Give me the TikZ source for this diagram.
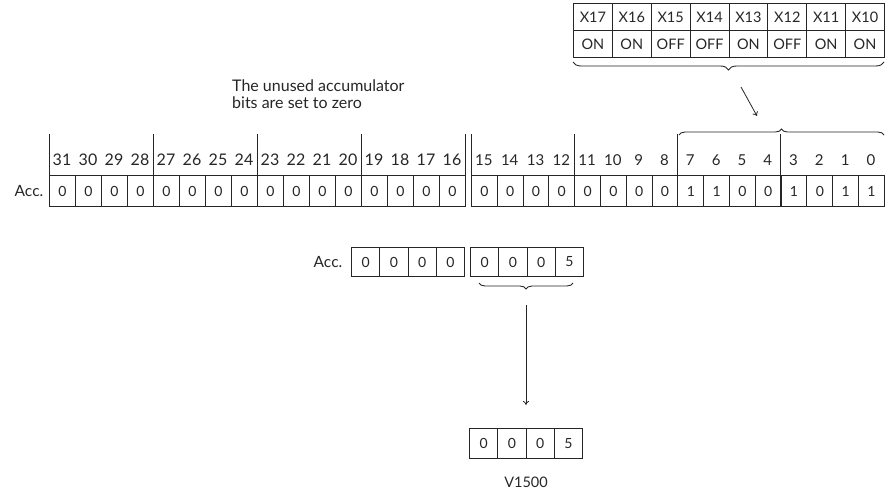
\documentclass[tikz,border=0pt]{standalone}
\usepackage{fontspec}
\setmainfont{Lato}
\usetikzlibrary{arrows.meta,decorations.pathreplacing}
\definecolor{inkc}{HTML}{262626}
\begin{document}
\begin{tikzpicture}[x=1pt,y=-1pt,
  inkline/.style={draw=inkc, line width=1pt},
  cellbox/.style n args={2}{draw=inkc, line width=1pt, minimum width=#1, minimum height=#2,
    inner sep=0pt, anchor=north west, text=inkc, font=\fontsize{14}{14}\selectfont},
  topcell/.style={font=\fontsize{14.5}{14.5}\selectfont},
  hdrL/.style={text=inkc, inner sep=0pt, font=\fontsize{16}{16}\selectfont},
  hdrR/.style={text=inkc, inner sep=0pt, font=\fontsize{15}{15}\selectfont},
  lbl/.style={text=inkc, inner sep=0pt, font=\fontsize{15.5}{15.5}\selectfont},
  bracestyle/.style={inkline, line width=0.9pt, decorate, decoration={brace, amplitude=#1}},
  arrowstyle/.style={inkline, line width=0.8pt, -{To[length=4pt,width=6pt]}}
]
\useasboundingbox (0,0) rectangle (885,492);

% top input table
\foreach \n/\s [count=\i from 0] in {17/ON,16/ON,15/OFF,14/OFF,13/ON,12/OFF,11/ON,10/ON} {
  \node[cellbox={38.875pt}{27pt}, topcell] (X\n) at ({573+38.875*\i},3) {X\n};
  \node[cellbox={38.875pt}{27pt}, topcell] (S\n) at ({573+38.875*\i},30) {\s};
}
\draw[bracestyle=8pt] (884,62) -- (573,62);
\coordinate (a1s) at (741,87);
\coordinate (a1e) at (757,116);
\draw[arrowstyle] (a1s) -- (a1e);

% note
\node[text=inkc, inner sep=0pt, anchor=north west, align=left,
  font=\fontsize{16}{17}\selectfont] (note) at (232,80)
  {The unused accumulator\\bits are set to zero};

% accumulator, upper half
\node[lbl] (acc) at (29,191) {Acc.};
\foreach \b [count=\i from 0] in {31,30,...,16} {
  \node[cellbox={26pt}{31pt}] (A\b) at ({49+26*\i},175) {0};
  \node[hdrL] (H\b) at ({62+26*\i},160) {\b};
}
\foreach \k in {0,...,4} \draw[inkline] ({49+104*\k},134) -- ({49+104*\k},206);

% accumulator, lower half
\foreach \b/\v [count=\i from 0] in {15/0,14/0,13/0,12/0,11/0,10/0,9/0,8/0,7/1,6/1,5/0,4/0,3/1,2/0,1/1,0/1} {
  \node[cellbox={25.8pt}{31pt}] (A\b) at ({471+25.8*\i},175) {\v};
  \node[hdrR] (H\b) at ({483.9+25.8*\i},160) {\b};
}
\foreach \k in {0,...,3} \draw[inkline] ({471+103.2*\k},134) -- ({471+103.2*\k},206);
\draw[bracestyle=6pt] (679,135) -- (884,135);

% middle accumulator
\node[lbl] (acc2) at (328,262) {Acc.};
\foreach \v [count=\i from 0] in {0,0,0,0} {
  \node[cellbox={28.25pt}{29pt}] (M\i) at ({351+28.25*\i},247) {\v};
}
\foreach \v [count=\i from 0] in {0,0,0,5} {
  \node[cellbox={28.25pt}{29pt}] (N\i) at ({470+28.25*\i},247) {\v};
}
\draw[bracestyle=6pt] (573,283) -- (479,283);
\coordinate (a2s) at (526,305);
\coordinate (a2e) at (526,405);
\draw[arrowstyle] (a2s) -- (a2e);

% V1500
\foreach \v [count=\i from 0] in {0,0,0,5} {
  \node[cellbox={28.25pt}{30pt}] (V\i) at ({469+28.25*\i},428) {\v};
}
\node[lbl, font=\fontsize{14.5}{14.5}\selectfont] (vname) at (526,482) {V1500};
\end{tikzpicture}
\end{document}
